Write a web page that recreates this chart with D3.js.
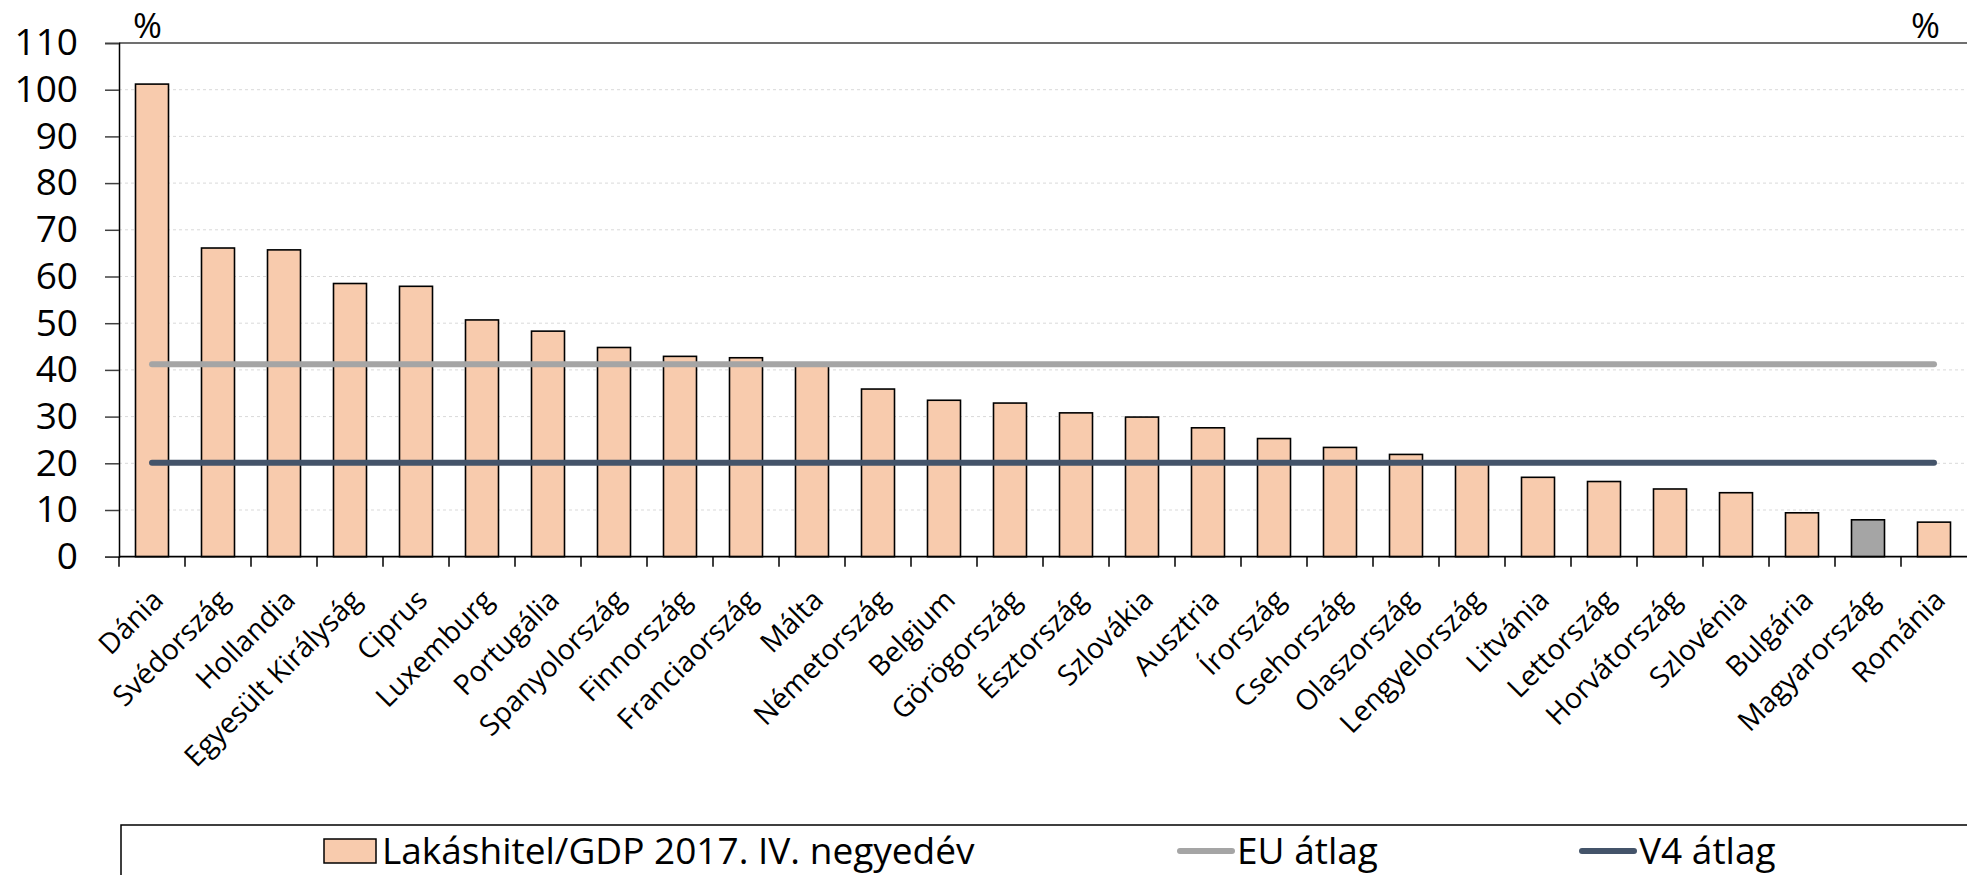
<!DOCTYPE html>
<html>
<head>
<meta charset="utf-8">
<script src="https://cdn.jsdelivr.net/npm/d3@7"></script>
<style>
  html, body { margin: 0; padding: 0; background: #fff; }
  svg text { font-family: "Open Sans", Lato, sans-serif; fill: #000; }
</style>
</head>
<body>
<div id="chart"></div>
<script>
// kategóriák és értékek
const categories = ["Dánia", "Svédország", "Hollandia", "Egyesült Királyság", "Ciprus", "Luxemburg",
  "Portugália", "Spanyolország", "Finnország", "Franciaország", "Málta", "Németország", "Belgium",
  "Görögország", "Észtország", "Szlovákia", "Ausztria", "Írország", "Csehország", "Olaszország",
  "Lengyelország", "Litvánia", "Lettország", "Horvátország", "Szlovénia", "Bulgária",
  "Magyarország", "Románia"];
const loanToGdp = [101.2, 66.1, 65.7, 58.5, 57.9, 50.7, 48.3, 44.8, 42.9, 42.6, 41.5, 35.9, 33.5,
  32.9, 30.8, 29.9, 27.6, 25.3, 23.4, 21.9, 20.4, 17.0, 16.1, 14.5, 13.7, 9.4, 7.9, 7.4];
const euAverage = 41.2;
const v4Average = 20.1;
const yTicks = [0, 10, 20, 30, 40, 50, 60, 70, 80, 90, 100, 110];
const highlighted = "Magyarország";

const legendItems = [
  { label: "Lakáshitel/GDP 2017. IV. negyedév", type: "bar", color: "#f8cbad" },
  { label: "EU átlag", type: "line", color: "#a5a5a5" },
  { label: "V4 átlag", type: "line", color: "#44546a" }
];

function drawChart() {
  const width = 1967, height = 875;
  const left = 119, right = 1967, top = 43, bottom = 556.7;

  const svg = d3.select("#chart").append("svg")
    .attr("width", width)
    .attr("height", height);

  const x = d3.scaleBand().domain(categories).range([left, right]).padding(0);
  const y = d3.scaleLinear().domain([0, 110]).range([bottom, top]);

  // rácsvonalak
  svg.append("g")
    .selectAll("line")
    .data(yTicks.filter(d => d > 0 && d < 110))
    .enter().append("line")
    .attr("x1", left).attr("x2", right)
    .attr("y1", d => y(d)).attr("y2", d => y(d))
    .attr("stroke", "#d9d9d9")
    .attr("stroke-dasharray", "3,3");

  // felső keretvonal
  svg.append("line")
    .attr("x1", left).attr("x2", right)
    .attr("y1", y(110)).attr("y2", y(110))
    .attr("stroke", "#404040")
    .attr("stroke-width", 1.5);

  // y tengely
  const yAxis = svg.append("g")
    .attr("transform", `translate(${left},0)`)
    .call(d3.axisLeft(y).tickValues(yTicks).tickSize(14).tickPadding(27));
  yAxis.select(".domain").attr("stroke", "#000").attr("stroke-width", 1.5);
  yAxis.selectAll(".tick line").attr("stroke", "#404040").attr("stroke-width", 1.5);
  yAxis.selectAll(".tick text")
    .attr("font-size", 37)
    .attr("font-family", "Lato, sans-serif")
    .attr("fill", "#000");

  // oszlopok
  const bw = x.bandwidth() * 0.5;
  svg.append("g")
    .selectAll("rect")
    .data(categories)
    .enter().append("rect")
    .attr("x", d => x(d) + x.bandwidth() * 0.25)
    .attr("y", (d, i) => y(loanToGdp[i]))
    .attr("width", bw)
    .attr("height", (d, i) => y(0) - y(loanToGdp[i]))
    .attr("fill", d => d === highlighted ? "#a5a5a5" : "#f8cbad")
    .attr("stroke", "#000")
    .attr("stroke-width", 1.6);

  // x tengely
  svg.append("line")
    .attr("x1", left).attr("x2", right)
    .attr("y1", bottom).attr("y2", bottom)
    .attr("stroke", "#000").attr("stroke-width", 1.8);
  svg.append("g")
    .selectAll("line")
    .data(categories)
    .enter().append("line")
    .attr("x1", d => x(d)).attr("x2", d => x(d))
    .attr("y1", bottom).attr("y2", bottom + 10)
    .attr("stroke", "#000").attr("stroke-width", 1.5);

  // kategória feliratok 45 fokban
  svg.append("g")
    .selectAll("text")
    .data(categories)
    .enter().append("text")
    .attr("transform", d => `translate(${x(d) + x.bandwidth() / 2 + 13},${bottom + 45}) rotate(-45)`)
    .attr("text-anchor", "end")
    .attr("font-size", 28.5)
    .text(d => d);

  // átlag vonalak
  const first = categories[0], last = categories[categories.length - 1];
  [[euAverage, "#a5a5a5"], [v4Average, "#44546a"]].forEach(([v, c]) => {
    svg.append("line")
      .attr("x1", x(first) + x.bandwidth() / 2)
      .attr("x2", x(last) + x.bandwidth() / 2)
      .attr("y1", y(v)).attr("y2", y(v))
      .attr("stroke", c)
      .attr("stroke-width", 6)
      .attr("stroke-linecap", "round");
  });

  // % jelek
  svg.append("text").attr("x", 133).attr("y", 38).attr("font-size", 35).attr("font-family", "Lato, sans-serif").text("%");
  svg.append("text").attr("x", 1911).attr("y", 38).attr("font-size", 35).attr("font-family", "Lato, sans-serif").text("%");

  // jelmagyarázat
  svg.append("path")
    .attr("d", `M121,${height + 5}V825H${width + 5}`)
    .attr("fill", "none")
    .attr("stroke", "#000")
    .attr("stroke-width", 1.5);

  const legendX = [324, 1178, 1580];
  const legend = svg.append("g")
    .selectAll("g")
    .data(legendItems)
    .enter().append("g")
    .attr("transform", (d, i) => `translate(${legendX[i]},0)`);

  legend.filter(d => d.type === "bar").append("rect")
    .attr("x", 0).attr("y", 839)
    .attr("width", 52).attr("height", 24)
    .attr("fill", d => d.color)
    .attr("stroke", "#000")
    .attr("stroke-width", 1.5);
  legend.filter(d => d.type === "line").append("line")
    .attr("x1", 2).attr("x2", 54)
    .attr("y1", 851).attr("y2", 851)
    .attr("stroke", d => d.color)
    .attr("stroke-width", 6)
    .attr("stroke-linecap", "round");
  legend.append("text")
    .attr("x", d => d.type === "bar" ? 58 : 59)
    .attr("y", 864)
    .attr("font-size", 37)
    .text(d => d.label);
}

window.onload = function() {
  drawChart();
};
</script>
</body>
</html>
